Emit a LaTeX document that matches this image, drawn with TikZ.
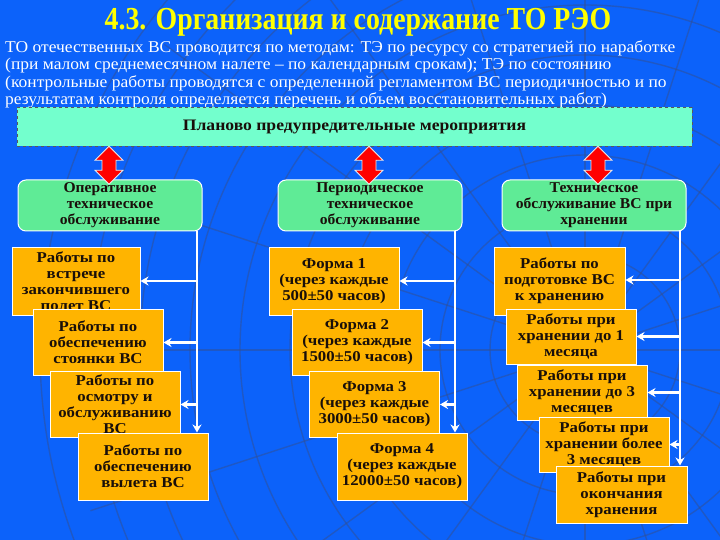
\documentclass[tikz,border=0pt]{standalone}
\usepackage{fontspec}
\setmainfont{Liberation Serif}
\usetikzlibrary{arrows.meta}
\definecolor{bg}{RGB}{12,98,250}
\definecolor{web}{RGB}{50,80,150}
\definecolor{orng}{RGB}{255,180,0}
\definecolor{topfill}{RGB}{115,255,205}
\definecolor{midfill}{RGB}{95,235,150}
\definecolor{ttl}{RGB}{255,255,0}
\definecolor{txt}{RGB}{25,15,10}
\tikzset{
  obox/.style={draw=white, line width=1pt, fill=orng, inner sep=0pt, align=center,
    text=txt, font=\bfseries\fontsize{15}{16}\selectfont\addfontfeature{FakeStretch=1.12}},
  midbox/.style={draw=white, line width=1pt, fill=midfill, rounded corners=8pt,
    inner sep=0pt, align=center, text=txt,
    font=\bfseries\fontsize{15}{16}\selectfont\addfontfeature{FakeStretch=1.04},
    minimum width=184, minimum height=51},
  redarr/.style={fill=red, draw=white!85!gray, line width=0.8pt},
  warrow/.style={draw=white, line width=2.2pt, -{Stealth[length=8pt,width=9pt]}},
}
\begin{document}
\begin{tikzpicture}[x=1pt,y=-1pt]
\fill[bg] (0,0) rectangle (720,540);
\useasboundingbox (0,0) rectangle (720,540);
% web background
\begin{scope}[draw=web, line width=1.4pt, opacity=0.55]
  \clip (0,0) rectangle (720,540);
  \foreach \a in {0,18,...,342} \draw (585,350) -- ++(\a:520);
  \foreach \r in {45,95,...,545} \draw (585,350) circle (\r);
\end{scope}
% title and intro
\node[font=\bfseries\fontsize{32}{34}\selectfont\addfontfeature{FakeStretch=0.87}, text=ttl, inner sep=0pt] (title) at (358,22)
  {4.3. Организация и содержание ТО РЭО};
\node[anchor=north west, align=left, text=white, font=\fontsize{16.5}{17.6}\selectfont\addfontfeature{FakeStretch=1.06}, inner sep=0pt] (intro) at (5,40)
  {ТО отечественных ВС проводится по методам: ТЭ по ресурсу со стратегией по наработке\\
   (при малом среднемесячном налете -- по календарным срокам); ТЭ по состоянию\\
   (контрольные работы проводятся с определенной регламентом ВС периодичностью и по\\
   результатам контроля определяется перечень и объем восстановительных работ)};
% top box
\node[draw=black!65, dashed, fill=topfill, minimum width=675, minimum height=39, inner sep=0pt,
  font=\bfseries\fontsize{16}{17}\selectfont\addfontfeature{FakeStretch=1.1}, text=txt] (plan) at (354.5,126.5)
  {Планово предупредительные мероприятия};
% level 2
\node[midbox] (op) at (110,205.5) {Оперативное\\техническое\\обслуживание};
\node[midbox] (per) at (370,205.5) {Периодическое\\техническое\\обслуживание};
\node[midbox] (st) at (594,205.5) {Техническое\\обслуживание ВС при\\хранении};
% red double arrows (from the top box down to each level-2 box)
\foreach \x in {109, 369, 598}{
  \draw[redarr] (plan.south -| \x,0) -- ++(14,14) -- ++(-7,0) -- ++(0,10) -- ++(7,0)
    -- ++(-14,14) -- ++(-14,-14) -- ++(7,0) -- ++(0,-10) -- ++(-7,0) -- cycle;
}
% column 1
\node[obox, minimum width=128, minimum height=68] (a1) at (76,281) {Работы по\\встрече\\закончившего\\полет ВС};
\node[obox, minimum width=130, minimum height=66] (a2) at (98,342.5) {Работы по\\обеспечению\\стоянки ВС};
\node[obox, minimum width=130, minimum height=66] (a3) at (115,404.5) {Работы по\\осмотру и\\обслуживанию\\ВС};
\node[obox, minimum width=130, minimum height=67] (a4) at (143,466.5) {Работы по\\обеспечению\\вылета ВС};
% column 2
\node[obox, minimum width=130, minimum height=68] (b1) at (334,281) {Форма 1\\(через каждые\\500±50 часов)};
\node[obox, minimum width=130, minimum height=66] (b2) at (357,342.5) {Форма 2\\(через каждые\\1500±50 часов)};
\node[obox, minimum width=130, minimum height=66] (b3) at (374.5,404.5) {Форма 3\\(через каждые\\3000±50 часов)};
\node[obox, minimum width=130, minimum height=67] (b4) at (402,466.5) {Форма 4\\(через каждые\\12000±50 часов)};
% column 3
\node[obox, minimum width=131, minimum height=68] (c1) at (559.5,281) {Работы по\\подготовке ВС\\к хранению};
\node[obox, minimum width=130, minimum height=55] (c2) at (571,336.5) {Работы при\\хранении до 1\\месяца};
\node[obox, minimum width=130, minimum height=55] (c3) at (582,392.5) {Работы при\\хранении до 3\\месяцев};
\node[obox, minimum width=130, minimum height=55] (c4) at (604,444.5) {Работы при\\хранении более\\3 месяцев};
\node[obox, minimum width=131, minimum height=57] (c5) at (621.5,494.5) {Работы при\\окончания\\хранения};
% connectors column 1
\coordinate (v1) at (197,0);
\draw[warrow] (op.south -| v1) -- (a4.north -| v1);
\draw[warrow] (a1.east -| v1) -- (a1.east);
\draw[warrow] (a2.east -| v1) -- (a2.east);
\draw[warrow] (a3.east -| v1) -- (a3.east);
% connectors column 2
\coordinate (v2) at (455,0);
\draw[warrow] (per.south -| v2) -- (b4.north -| v2);
\draw[warrow] (b1.east -| v2) -- (b1.east);
\draw[warrow] (b2.east -| v2) -- (b2.east);
\draw[warrow] (b3.east -| v2) -- (b3.east);
% connectors column 3
\coordinate (v3) at (680,0);
\draw[warrow] (st.south -| v3) -- (c5.north -| v3);
\draw[warrow] ([yshift=1pt]c1.east -| v3) -- ([yshift=1pt]c1.east);
\draw[warrow] (c2.east -| v3) -- (c2.east);
\draw[warrow] (c3.east -| v3) -- (c3.east);
\draw[warrow] (c4.east -| v3) -- (c4.east);
\end{tikzpicture}
\end{document}
